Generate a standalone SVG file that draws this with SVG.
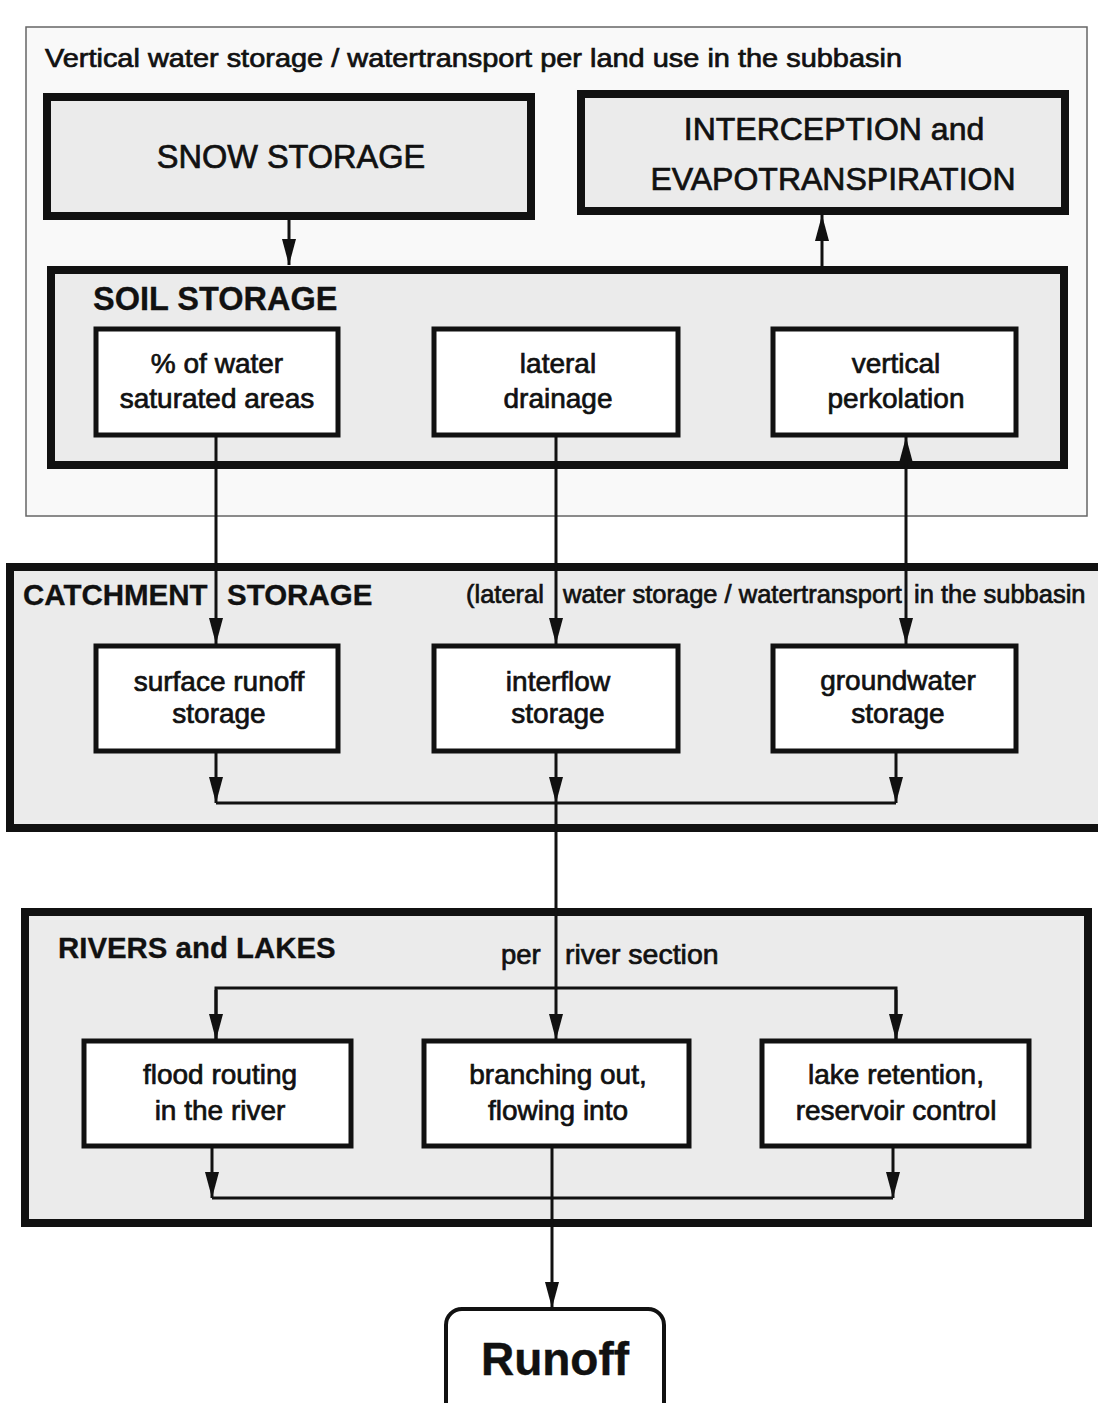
<svg xmlns="http://www.w3.org/2000/svg" width="1098" height="1403" viewBox="0 0 1098 1403">
<defs>
<style>
text{font-family:"Liberation Sans",Arial,sans-serif;fill:#111;stroke:#111;stroke-width:0.7;}
.sec{fill:#ebebeb;stroke:#111;stroke-width:8;}
.big{fill:#ebebeb;stroke:#111;stroke-width:8;}
.box{fill:#fff;stroke:#111;stroke-width:5;}
.t{font-size:28px;text-anchor:middle;}
.h{font-weight:bold;stroke-width:0.3;}
.c{font-size:25.5px;}
.ln{fill:none;stroke:#111;stroke-width:3;}
</style>
<marker id="ah" markerUnits="userSpaceOnUse" markerWidth="26" markerHeight="14" refX="26" refY="7" orient="auto">
<path d="M0,0 L26,7 L0,14 z" fill="#111"/>
</marker>
<marker id="as" markerUnits="userSpaceOnUse" markerWidth="26" markerHeight="14" refX="0" refY="7" orient="auto">
<path d="M26,0 L0,7 L26,14 z" fill="#111"/>
</marker>
</defs>
<rect width="1098" height="1403" fill="#fff"/>

<g id="vertical-area">
<rect x="26" y="27" width="1061" height="489" fill="#f9f9f9" stroke="#666" stroke-width="1.5"/>
<text x="45" y="67" font-size="26" textLength="857" lengthAdjust="spacingAndGlyphs">Vertical water storage /  watertransport per land use in the subbasin</text>
</g>

<g id="snow-storage">
<rect class="big" x="47" y="97" width="484" height="119"/>
<text x="291" y="168" font-size="32.5" text-anchor="middle">SNOW STORAGE</text>
</g>

<g id="interception">
<rect class="big" x="581" y="94" width="484" height="117"/>
<text x="834" y="140" font-size="32" text-anchor="middle">INTERCEPTION and</text>
<text x="833" y="190" font-size="32" text-anchor="middle">EVAPOTRANSPIRATION</text>
</g>

<g id="soil-storage">
<rect class="sec" x="51" y="270" width="1013" height="195"/>
<text class="h" x="93" y="310" font-size="32.5">SOIL STORAGE</text>
</g>

<g id="saturated-areas">
<rect class="box" x="96" y="329" width="242" height="106"/>
<text class="t" x="217" y="373">% of water</text>
<text class="t" x="217" y="408">saturated areas</text>
</g>
<g id="lateral-drainage">
<rect class="box" x="434" y="329" width="244" height="106"/>
<text class="t" x="558" y="373">lateral</text>
<text class="t" x="558" y="408">drainage</text>
</g>
<g id="vertical-perkolation">
<rect class="box" x="773" y="329" width="243" height="106"/>
<text class="t" x="896" y="373">vertical</text>
<text class="t" x="896" y="408">perkolation</text>
</g>

<g id="catchment-storage">
<rect class="sec" x="10" y="567" width="1100" height="261"/>
<text class="h" x="23" y="605" font-size="29.5">CATCHMENT</text>
<text class="h" x="227" y="605" font-size="29.5">STORAGE</text>
<text class="c" x="466" y="603">(lateral</text>
<text class="c" x="563" y="603">water storage / watertransport</text>
<text class="c" x="914" y="603">in the subbasin</text>
</g>

<g id="surface-runoff">
<rect class="box" x="96" y="646" width="242" height="105"/>
<text class="t" x="219" y="691">surface runoff</text>
<text class="t" x="219" y="723">storage</text>
</g>
<g id="interflow">
<rect class="box" x="434" y="646" width="244" height="105"/>
<text class="t" x="558" y="691">interflow</text>
<text class="t" x="558" y="723">storage</text>
</g>
<g id="groundwater">
<rect class="box" x="773" y="646" width="243" height="105"/>
<text class="t" x="898" y="690">groundwater</text>
<text class="t" x="898" y="723">storage</text>
</g>

<g id="rivers-lakes">
<rect class="sec" x="25" y="912" width="1063" height="311"/>
<text class="h" x="58" y="958" font-size="29.4">RIVERS and LAKES</text>
<text x="501" y="964" font-size="27.5">per</text>
<text x="565" y="964" font-size="28.5">river section</text>
</g>

<g id="flood-routing">
<rect class="box" x="84" y="1041" width="267" height="105"/>
<text class="t" x="220" y="1084">flood routing</text>
<text class="t" x="220" y="1120">in the river</text>
</g>
<g id="branching-out">
<rect class="box" x="424" y="1041" width="265" height="105"/>
<text class="t" x="558" y="1084">branching out,</text>
<text class="t" x="558" y="1120">flowing into</text>
</g>
<g id="lake-retention">
<rect class="box" x="762" y="1041" width="267" height="105"/>
<text class="t" x="896" y="1084">lake retention,</text>
<text class="t" x="896" y="1120">reservoir control</text>
</g>

<g id="runoff">
<rect x="446" y="1309" width="218" height="130" rx="16" fill="#fff" stroke="#111" stroke-width="4"/>
<text x="555" y="1375" font-size="46" font-weight="bold" text-anchor="middle" style="stroke-width:0.4">Runoff</text>
</g>

<g id="connectors" class="ln">
<line x1="289" y1="220" x2="289" y2="265" marker-end="url(#ah)"/>
<line x1="822" y1="266" x2="822" y2="215" marker-end="url(#ah)"/>
<line x1="216" y1="436" x2="216" y2="644" marker-end="url(#ah)"/>
<line x1="556" y1="436" x2="556" y2="644" marker-end="url(#ah)"/>
<line x1="906" y1="437" x2="906" y2="644" marker-start="url(#as)" marker-end="url(#ah)"/>
<line x1="216" y1="752" x2="216" y2="803" marker-end="url(#ah)"/>
<line x1="556" y1="752" x2="556" y2="803" marker-end="url(#ah)"/>
<line x1="896" y1="752" x2="896" y2="803" marker-end="url(#ah)"/>
<line x1="216" y1="803" x2="896" y2="803"/>
<line x1="556" y1="803" x2="556" y2="1040" marker-end="url(#ah)"/>
<polyline points="216,1040 216,988 896,988 896,1040"/>
<line x1="216" y1="990" x2="216" y2="1040" marker-end="url(#ah)"/>
<line x1="896" y1="990" x2="896" y2="1040" marker-end="url(#ah)"/>
<line x1="212" y1="1147" x2="212" y2="1198" marker-end="url(#ah)"/>
<line x1="893" y1="1147" x2="893" y2="1198" marker-end="url(#ah)"/>
<line x1="212" y1="1198" x2="893" y2="1198"/>
<line x1="552" y1="1147" x2="552" y2="1308" marker-end="url(#ah)"/>
</g>
</svg>
